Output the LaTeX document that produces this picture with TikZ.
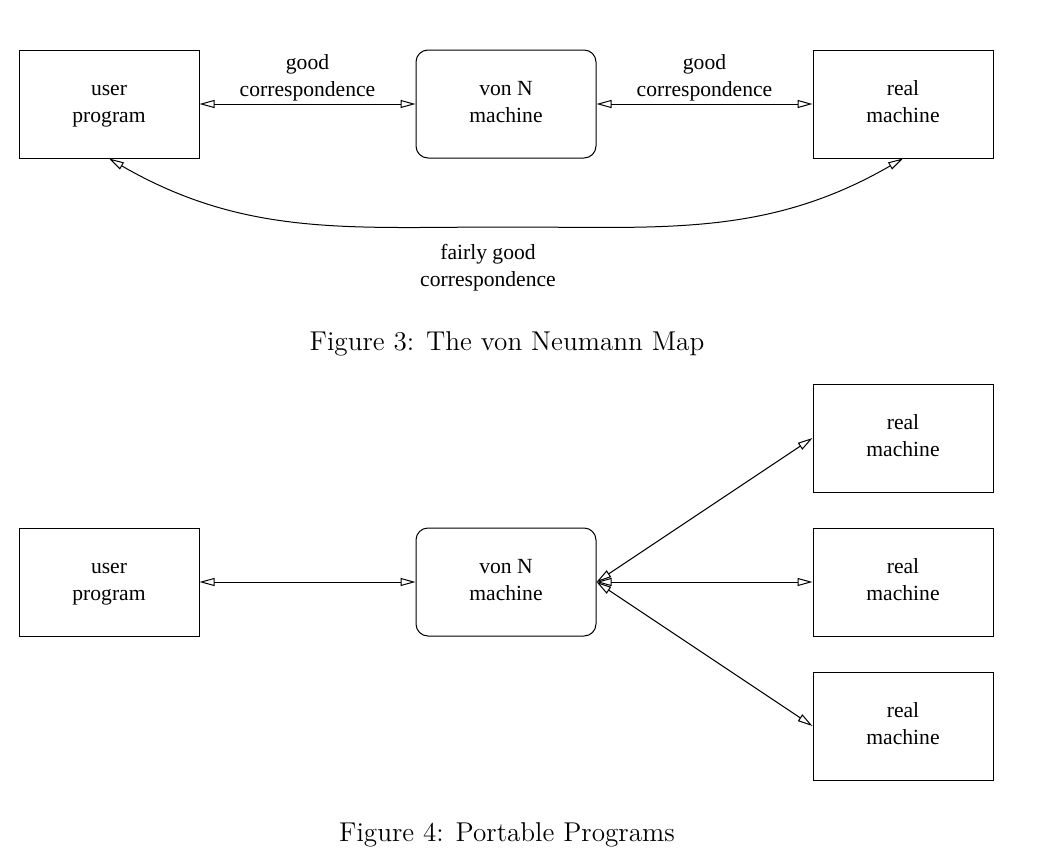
\documentclass[tikz,border=0pt]{standalone}
\usepackage{fontspec}
\newfontfamily\nodefont{Liberation Serif}
\usetikzlibrary{arrows.meta}
\newcommand\twolines[2]{\strut #1\\\strut #2}
\begin{document}
\begin{tikzpicture}[x=0.5pt,y=-0.5pt,
  box/.style={draw, line width=0.5pt, minimum width=90pt, minimum height=54pt, inner sep=0pt, align=center, font=\nodefont\fontsize{10.8}{13.5}\selectfont},
  rbox/.style={box, rounded corners=6pt},
  opentip/.tip={Triangle[open,length=7.5pt,width=4pt]},
  link/.style={line width=0.5pt, opentip-opentip},
  lab/.style={align=center, inner sep=0pt, font=\nodefont\fontsize{10.8}{13.5}\selectfont},
  figcap/.style={inner sep=0pt, font=\fontsize{13.6}{16}\selectfont}]
\useasboundingbox (0,0) rectangle (1040,862);
% Figure 3
\node[box]  (up1) at (109,104) {\twolines{user}{program}};
\node[rbox] (vn1) at (506,104) {\twolines{von N}{machine}};
\node[box]  (rm1) at (903,104) {\twolines{real}{machine}};
\draw[link] (up1.east) -- node[lab, above=-0.8pt] {\twolines{good}{correspondence}} (vn1.west);
\draw[link] (vn1.east) -- node[lab, above=-0.8pt] {\twolines{good}{correspondence}} (rm1.west);
\coordinate (low) at (507,227);
\draw[link] (up1.south) to[out=-30,in=180] (low) to[out=0,in=-150] (rm1.south);
\node[lab] (fg) at (488,268) {\twolines{fairly good}{correspondence}};
\node[figcap] (c3) at (507,344) {Figure 3: The von Neumann Map};
% Figure 4
\node[box]  (up2) at (109,582) {\twolines{user}{program}};
\node[rbox] (vn2) at (506,582) {\twolines{von N}{machine}};
\node[box]  (ra) at (903,438) {\twolines{real}{machine}};
\node[box]  (rb) at (903,582) {\twolines{real}{machine}};
\node[box]  (rc) at (903,726) {\twolines{real}{machine}};
\draw[link] (up2.east) -- (vn2.west);
\draw[link] (vn2.east) -- (ra.west);
\draw[link] (vn2.east) -- (rb.west);
\draw[link] (vn2.east) -- (rc.west);
\node[figcap] (c4) at (507,835) {Figure 4: Portable Programs};
\end{tikzpicture}
\end{document}
